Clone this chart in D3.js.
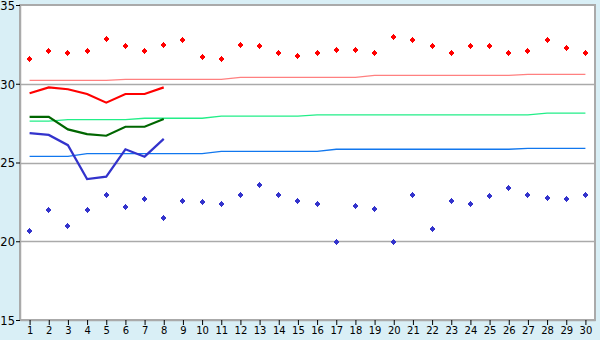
<!DOCTYPE html>
<html lang="en">
<head>
    <meta charset="UTF-8">
    <script src="https://d3js.org/d3.v7.min.js"></script>
    <style>
        body {
            margin: 0;
            padding: 0;
            background-color: #d9eff6;
            font-family: 'DejaVu Sans', sans-serif;
        }

        svg {
            display: block;
        }

        .tick-label {
            fill: #000000;
        }
    </style>
</head>
<body>
    <svg id="chart" width="600" height="340"></svg>

    <script>
        // Days of the month
        const days = d3.range(1, 31);

        // Daily highs / lows (markers)
        const highs = [31.6, 32.1, 32.0, 32.1, 32.9, 32.4, 32.1, 32.5, 32.8, 31.7,
                       31.6, 32.5, 32.4, 32.0, 31.8, 32.0, 32.2, 32.2, 32.0, 33.0,
                       32.8, 32.4, 32.0, 32.4, 32.4, 32.0, 32.1, 32.8, 32.3, 32.0];
        const lows = [20.7, 22.0, 21.0, 22.0, 23.0, 22.2, 22.7, 21.5, 22.6, 22.5,
                      22.4, 23.0, 23.6, 23.0, 22.6, 22.4, 20.0, 22.3, 22.1, 20.0,
                      23.0, 20.8, 22.6, 22.4, 22.9, 23.4, 23.0, 22.8, 22.7, 23.0];

        // Current readings (first 8 days)
        const redSeries = [29.4, 29.77, 29.65, 29.35, 28.8, 29.35, 29.35, 29.77];
        const greenSeries = [27.9, 27.9, 27.1, 26.8, 26.7, 27.27, 27.27, 27.76];
        const blueSeries = [26.87, 26.75, 26.1, 23.95, 24.1, 25.84, 25.37, 26.5];

        // Normals
        const normalRed = [30.22, 30.22, 30.22, 30.22, 30.22, 30.28, 30.28, 30.28, 30.28, 30.28,
                           30.28, 30.41, 30.41, 30.41, 30.41, 30.41, 30.41, 30.41, 30.53, 30.53,
                           30.53, 30.53, 30.53, 30.53, 30.53, 30.53, 30.6, 30.6, 30.6, 30.6];
        const normalGreen = [27.63, 27.63, 27.72, 27.72, 27.72, 27.72, 27.81, 27.81, 27.81, 27.81,
                             27.95, 27.95, 27.95, 27.95, 27.95, 28.02, 28.02, 28.02, 28.02, 28.02,
                             28.02, 28.02, 28.02, 28.02, 28.02, 28.02, 28.02, 28.14, 28.14, 28.14];
        const normalBlue = [25.39, 25.39, 25.39, 25.56, 25.56, 25.56, 25.56, 25.56, 25.56, 25.56,
                            25.71, 25.71, 25.71, 25.71, 25.71, 25.71, 25.84, 25.84, 25.84, 25.84,
                            25.84, 25.84, 25.84, 25.84, 25.84, 25.84, 25.9, 25.9, 25.9, 25.9];

        const yTicks = [15, 20, 25, 30, 35];

        const margin = { top: 5, right: 5, bottom: 20, left: 20 };
        const width = 600;
        const height = 340;

        const svg = d3.select("#chart");

        const x = d3.scaleLinear()
            .domain([0.5, 30.5])
            .range([margin.left, width - margin.right]);

        const y = d3.scaleLinear()
            .domain([15, 35])
            .range([height - margin.bottom, margin.top]);

        // Plot background
        svg.append("rect")
            .attr("x", margin.left)
            .attr("y", margin.top)
            .attr("width", width - margin.left - margin.right)
            .attr("height", height - margin.top - margin.bottom)
            .attr("fill", "#ffffff")
            .attr("stroke", "#aaaaaa")
            .attr("stroke-width", 1.5)
            .attr("shape-rendering", "crispEdges");

        // Gridlines
        svg.append("g")
            .selectAll("line")
            .data([20, 25, 30])
            .enter()
            .append("line")
            .attr("x1", margin.left)
            .attr("x2", width - margin.right)
            .attr("y1", d => Math.round(y(d)) + 0.5)
            .attr("y2", d => Math.round(y(d)) + 0.5)
            .attr("stroke", "#aaaaaa")
            .attr("stroke-width", 1.5);

        // Axes
        const xAxis = d3.axisBottom(x).tickValues(days).tickSize(5).tickSizeOuter(0);
        const yAxis = d3.axisLeft(y).tickValues(yTicks).tickSize(4).tickSizeOuter(0);

        const gx = svg.append("g")
            .attr("transform", `translate(0,${height - margin.bottom})`)
            .call(xAxis);
        gx.select(".domain").attr("stroke", "#aaaaaa").attr("stroke-width", 1.5);
        gx.selectAll(".tick line").attr("stroke", "#000000");
        gx.selectAll(".tick text")
            .attr("class", "tick-label")
            .attr("y", 7)
            .style("font-family", "'DejaVu Sans', sans-serif")
            .style("font-size", "10px");

        const gy = svg.append("g")
            .attr("transform", `translate(${margin.left},0)`)
            .call(yAxis);
        gy.select(".domain").attr("stroke", "#aaaaaa").attr("stroke-width", 1.5);
        gy.selectAll(".tick line").attr("stroke", "#000000");
        gy.selectAll(".tick text")
            .attr("class", "tick-label")
            .attr("x", -5)
            .attr("dy", "0.38em")
            .style("font-family", "'DejaVu Sans', sans-serif")
            .style("font-size", "11.5px");

        const line = d3.line()
            .x((d, i) => x(days[i]))
            .y(d => y(d));

        // Normal lines
        const normals = [
            { values: normalRed, color: "#ff8080" },
            { values: normalGreen, color: "#22ee88" },
            { values: normalBlue, color: "#1177ee" }
        ];
        normals.forEach(s => {
            svg.append("path")
                .datum(s.values)
                .attr("fill", "none")
                .attr("stroke", s.color)
                .attr("stroke-width", 1.3)
                .attr("d", line);
        });

        // Current series lines
        const current = [
            { values: redSeries, color: "#ff0000" },
            { values: greenSeries, color: "#006600" },
            { values: blueSeries, color: "#3333cc" }
        ];
        current.forEach(s => {
            svg.append("path")
                .datum(s.values)
                .attr("fill", "none")
                .attr("stroke", s.color)
                .attr("stroke-width", 2.2)
                .attr("d", line);
        });

        // Small pixel markers, snapped to pixel centres
        const marker = "M-0.5,-3h1v1h1v1h1v2h-1v1h-1v1h-1v-1h-1v-1h-1v-2h1v-1h1z";
        const snap = v => Math.floor(v) + 0.5;

        const markerSets = [
            { values: highs, color: "#ff0000" },
            { values: lows, color: "#3333cc" }
        ];
        markerSets.forEach(s => {
            svg.append("g")
                .selectAll("path")
                .data(s.values)
                .enter()
                .append("path")
                .attr("d", marker)
                .attr("fill", s.color)
                .attr("shape-rendering", "crispEdges")
                .attr("transform", (d, i) => `translate(${snap(x(days[i]))},${snap(y(d))})`);
        });
    </script>
</body>
</html>
